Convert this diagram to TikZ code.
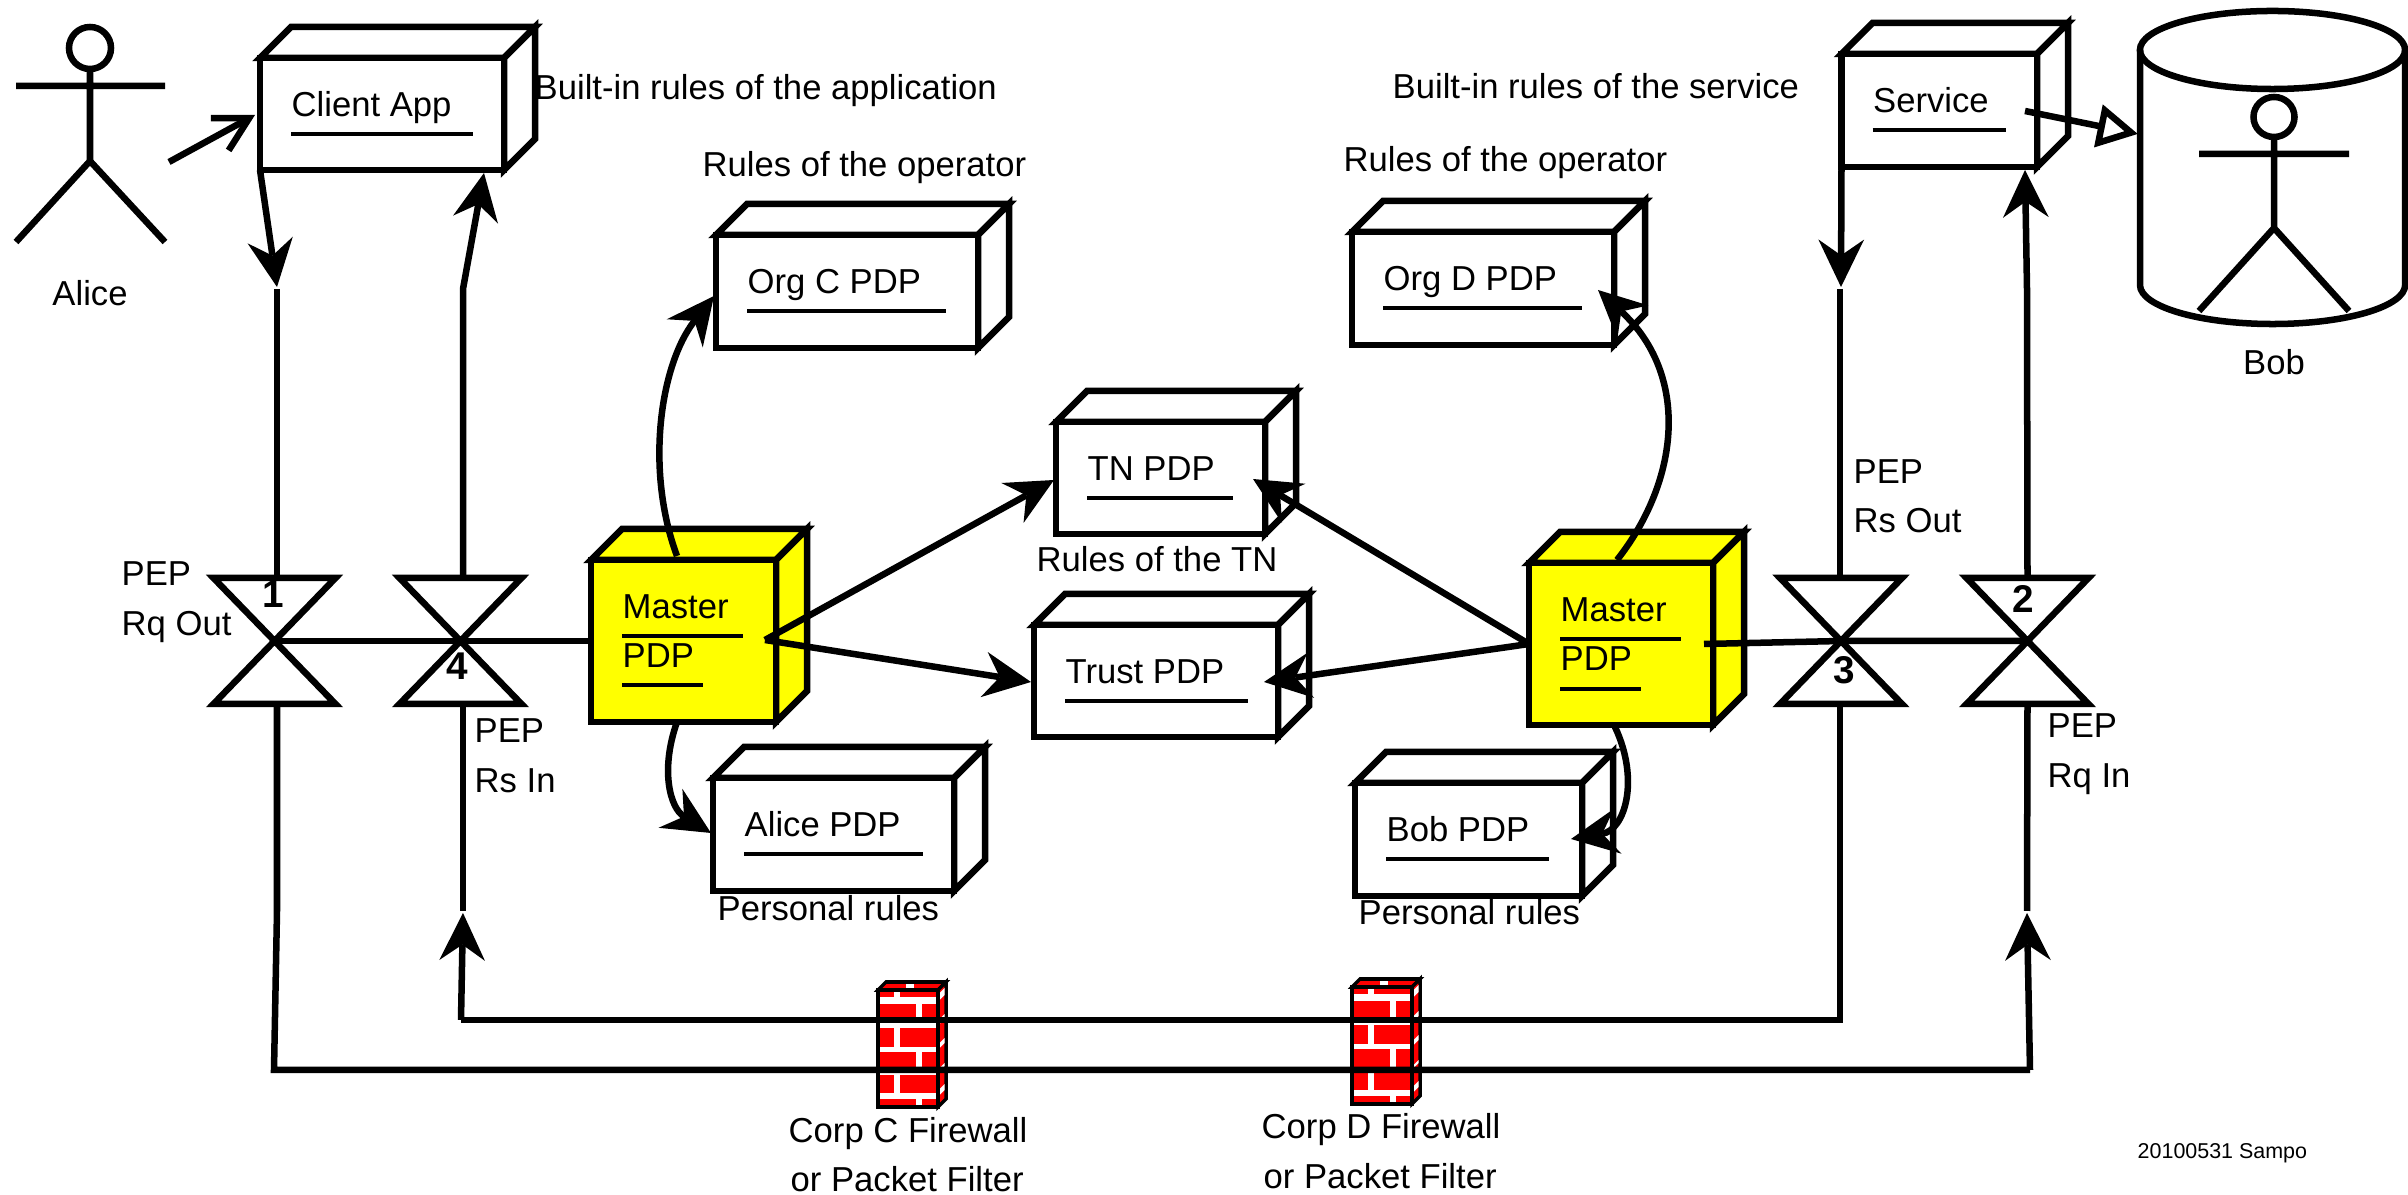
\documentclass[tikz,border=0pt]{standalone}
\usepackage{fontspec}
\setmainfont{Liberation Sans}
\usetikzlibrary{arrows.meta}
\definecolor{masteryellow}{RGB}{255,255,0}
\definecolor{brickred}{RGB}{255,0,0}
\tikzset{
    wire/.style={line width=1.85pt},
    tipped/.style={wire,-{Stealth[length=13.5pt,width=13pt,inset=4.5pt,line width=0pt]}},
    lbl/.style={anchor=base west,inner sep=0pt,yshift=-.015cm,font=\fontsize{9.85}{12}\selectfont},
    lblmid/.style={lbl,anchor=base},
    pepnum/.style={anchor=base,inner sep=0pt,font=\fontsize{11}{12}\selectfont\bfseries},
    rulebar/.style={line width=.95pt},
    cubeface/.style={draw,rectangle,anchor=north west,outer sep=0pt,inner sep=0pt,line width=1.85pt}
}
% name, left, top, right, bottom, fill, label, bar length
\newcommand{\pdpcube}[8]{
    \filldraw[wire,fill=#6] (#2,#3)--(#2+31,#3-31)--(#4+31,#3-31)--(#4,#3)--cycle;
    \filldraw[wire,fill=#6] (#4,#3)--(#4+31,#3-31)--(#4+31,#5-31)--(#4,#5)--cycle;
    \node[cubeface,fill=#6,minimum width={(#4-#2)*0.01cm},minimum height={(#5-#3)*0.01cm}] (#1) at (#2,#3) {};
    \node[lbl] (#1label) at (#2+31,#3+57) {#7};
    \draw[rulebar] (#2+31,#3+76)--(#2+31+#8,#3+76);
}
\newcommand{\pepvalve}[3]{
    \draw[wire] (#2-61,578)--(#2+61,578)--(#2-61,704)--(#2+61,704)--cycle;
    \coordinate (#1) at (#2,641);
    \coordinate (#1top) at (#3,578);
    \coordinate (#1bot) at (#3,704);
}
\newcommand{\brickwall}[3]{
    \begin{scope}[shift={(#2,#3)}]
        \filldraw[line width=1pt,fill=brickred] (0,0)--(8,-8)--(68,-8)--(60,0)--cycle;
        \filldraw[line width=1pt,fill=brickred] (60,0)--(68,-8)--(68,109)--(60,117)--cycle;
        \fill[brickred] (0,0) rectangle (60,117);
        \fill[white] (28,-2) rectangle (36,-6);
        \foreach \ya/\yb in {7/14,33/38,57/62,82/85,103/109} {
            \fill[white] (2,\ya) rectangle (58,\yb);
            \fill[white] (61.5,\ya-4) -- (66.5,\ya-9) -- (66.5,\yb-9) -- (61.5,\yb-4) -- cycle;
        }
        \foreach \ya/\yb in {0/7,38/57,85/103} \fill[white] (16,\ya) rectangle (22,\yb);
        \foreach \ya/\yb in {14/33,62/82,109/117} \fill[white] (38,\ya) rectangle (44,\yb);
        \node[cubeface,line width=1pt,minimum width=.6cm,minimum height=1.17cm] (#1) at (0,0) {};
    \end{scope}
}
\begin{document}
\begin{tikzpicture}[x=.01cm,y=-.01cm]
    \useasboundingbox (0,0) rectangle (2408,1195);
    \draw[wire] (90,48) ellipse [x radius=.21cm,y radius=.21cm];
    \draw[wire] (90,69)--(90,161) (16,86)--(165,86) (16,242)--(90,161)--(165,242);
    \node[lblmid] (alice) at (90,304) {Alice};
    \draw[wire] (2140,50)--(2140,285) arc[start angle=180,end angle=360,x radius=1.325cm,y radius=.39cm]--(2405,50);
    \draw[wire] (2272.5,50) ellipse [x radius=1.325cm,y radius=.39cm];
    \draw[wire] (2274,117) ellipse [x radius=.205cm,y radius=.2cm];
    \draw[wire] (2274,137)--(2274,228) (2199,154)--(2349,154) (2199,311)--(2274,228)--(2349,311);
    \node[lblmid] (bob) at (2274,373) {Bob};

    \pdpcube{clientapp}{260}{58}{504}{170}{white}{Client App}{182}
    \pdpcube{service}{1841.5}{54}{2037}{167}{white}{Service}{133}
    \pdpcube{orgc}{716}{235}{978}{348}{white}{Org C PDP}{199}
    \pdpcube{orgd}{1352}{232}{1614}{345}{white}{Org D PDP}{199}
    \pdpcube{tn}{1056}{422}{1265}{534}{white}{TN PDP}{146}
    \pdpcube{trust}{1034}{625}{1278}{737}{white}{Trust PDP}{183}
    \pdpcube{alicepdp}{713}{778}{954}{891}{white}{Alice PDP}{179}
    \pdpcube{bobpdp}{1355}{783}{1582}{896}{white}{Bob PDP}{163}
    \pdpcube{masterc}{591}{560}{776}{722}{masteryellow}{Master}{121}
    \pdpcube{masterd}{1529}{563}{1713}{725}{masteryellow}{Master}{121}
    \node[lbl] (mastercpdp) at (622,666) {PDP};
    \draw[rulebar] (622,685)--(703,685);
    \node[lbl] (masterdpdp) at (1560,669) {PDP};
    \draw[rulebar] (1560,689)--(1641,689);

    \pepvalve{pepa}{274.5}{277}
    \pepvalve{pepb}{2027.5}{2027.5}
    \pepvalve{pepc}{1841}{1840}
    \pepvalve{pepd}{460.5}{463}
    \node[pepnum] (numa) at (273,608) {1};
    \node[pepnum] (numb) at (2023,613) {2};
    \node[pepnum] (numc) at (1844,684) {3};
    \node[pepnum] (numd) at (457.5,680) {4};

    \brickwall{fwc}{878}{990}
    \brickwall{fwd}{1352}{987}

    \coordinate (rqdown) at (277,287);
    \coordinate (rqtail) at (277,289);
    \coordinate (rsbend) at (463,289);
    \coordinate (rsup) at (484,173);
    \coordinate (alicefrom) at (169,162);
    \coordinate (aliceto) at (255,115);
    \coordinate (srvdown) at (1841,287);
    \coordinate (srvtail) at (1840,289);
    \coordinate (srvbend) at (2027,289);
    \coordinate (srvup) at (2025,170);
    \coordinate (srvfrom) at (2025,111);
    \coordinate (bobto) at (2138,134);
    \coordinate (hubc) at (765,640);
    \coordinate (hubd) at (1704,644);
    \coordinate (tnleft) at (1054,480);
    \coordinate (tnright) at (1253,479);
    \coordinate (trustleft) at (1031,682);
    \coordinate (trustright) at (1264,682);
    \coordinate (orgcto) at (714,296);
    \coordinate (orgdto) at (1598,290);
    \coordinate (alicepdpto) at (711,833);
    \coordinate (bobpdpto) at (1571,839);
    \coordinate (mcbot) at (677,722);
    \coordinate (mctop) at (677,556);
    \coordinate (mdtop) at (1617,560);
    \coordinate (mdbot) at (1615,727);
    \coordinate (innerup) at (463,913);
    \coordinate (innerleft) at (461,1020);
    \coordinate (innerright) at (1840,1020);
    \coordinate (outerup) at (2027,913);
    \coordinate (outerleft) at (277,911);
    \coordinate (outerbl) at (274,1070);
    \coordinate (outerbr) at (2030,1070);
    \coordinate (outertail) at (463,911);
    \coordinate (outertailb) at (2027,911);

    \draw[wire,-{Straight Barb[length=9.5pt,width=10.5pt]}] (alicefrom)--(aliceto);
    \draw[tipped] (clientapp.south west)--(rqdown);
    \draw[wire] (rqtail)--(pepatop);
    \draw[tipped] (pepdtop)--(rsbend)--(rsup);
    \draw[tipped] (service.south west)--(srvdown);
    \draw[wire] (srvtail)--(pepctop);
    \draw[tipped] (pepbtop)--(srvbend)--(srvup);
    \draw[wire,-{Triangle[open,fill=white,length=11.5pt,width=12pt]}] (srvfrom)--(bobto);

    \draw[wire] (pepa)--(pepd)--(masterc.west);
    \draw[wire] (hubd)--(pepc)--(pepb);
    \draw[tipped] (hubc)--(tnleft);
    \draw[tipped] (hubc)--(trustleft);
    \draw[tipped] (masterd.west)--(tnright);
    \draw[tipped] (masterd.west)--(trustright);
    \draw[tipped] (mctop) .. controls (645,470) and (660,365) .. (orgcto);
    \draw[tipped] (mcbot) .. controls (660,770) and (670,808) .. (alicepdpto);
    \draw[tipped] (mdtop) .. controls (1680,480) and (1690,375) .. (orgdto);
    \draw[tipped] (mdbot) .. controls (1640,780) and (1625,830) .. (bobpdpto);

    \draw[wire] (pepabot)--(outerleft)--(outerbl)--(outerbr);
    \draw[tipped] (outerbr)--(outerup);
    \draw[wire] (pepbbot)--(outertailb);
    \draw[wire] (pepdbot)--(outertail);
    \draw[wire] (pepcbot)--(innerright)--(innerleft);
    \draw[tipped] (innerleft)--(innerup);

    \node[lbl] (builtapp) at (534,98) {Built-in rules of the application};
    \node[lbl] (builtsrv) at (1392,97) {Built-in rules of the service};
    \node[lbl] (operc) at (702,175) {Rules of the operator};
    \node[lbl] (operd) at (1343,170) {Rules of the operator};
    \node[lbl] (tnrules) at (1036,570) {Rules of the TN};
    \node[lbl] (alicerules) at (717,919) {Personal rules};
    \node[lbl] (bobrules) at (1358,923) {Personal rules};
    \node[lbl] (rqoutp) at (121,584) {PEP};
    \node[lbl] (rqoutq) at (121,634) {Rq Out};
    \node[lbl] (rsinp) at (474,741) {PEP};
    \node[lbl] (rsinq) at (474,791) {Rs In};
    \node[lbl] (rsoutp) at (1853,482) {PEP};
    \node[lbl] (rsoutq) at (1853,531) {Rs Out};
    \node[lbl] (rqinp) at (2047,736) {PEP};
    \node[lbl] (rqinq) at (2047,786) {Rq In};
    \node[lbl] (fwcone) at (788,1141) {Corp C Firewall};
    \node[lbl] (fwctwo) at (790,1190) {or Packet Filter};
    \node[lbl] (fwdone) at (1261,1137) {Corp D Firewall};
    \node[lbl] (fwdtwo) at (1263,1187) {or Packet Filter};
    \node[lbl,font=\fontsize{6.1}{8}\selectfont] (stamp) at (2137,1157) {20100531 Sampo};
\end{tikzpicture}
\end{document}
